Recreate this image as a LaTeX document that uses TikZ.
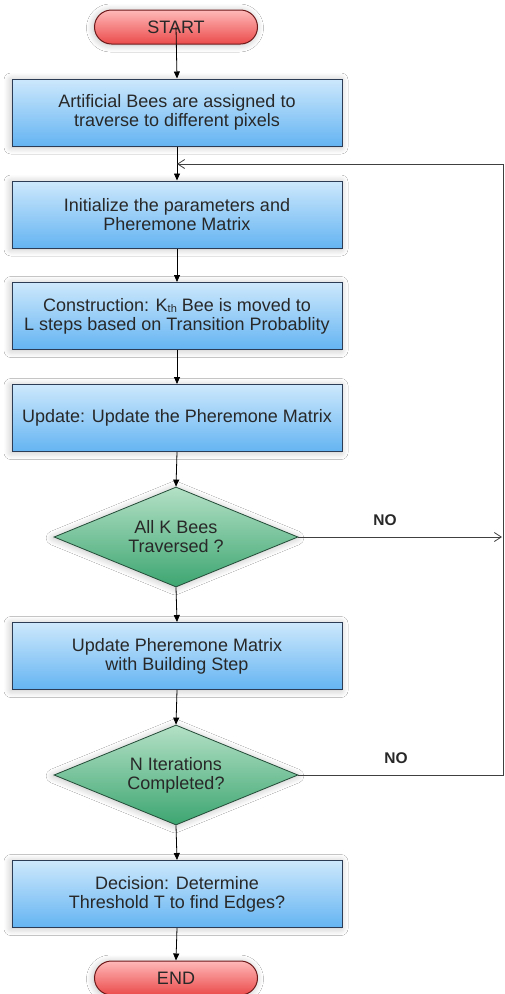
\documentclass[tikz,border=0pt]{standalone}
\usepackage{fontspec}
\setmainfont{Liberation Sans}
\usetikzlibrary{shapes.geometric,arrows.meta,shadows.blur}
\definecolor{boxtop}{RGB}{205,232,252}
\definecolor{boxbot}{RGB}{100,180,242}
\definecolor{boxline}{RGB}{45,60,85}
\definecolor{dtop}{RGB}{180,225,198}
\definecolor{dbot}{RGB}{60,165,112}
\definecolor{dline}{RGB}{35,75,55}
\definecolor{ptop}{RGB}{255,185,185}
\definecolor{pbot}{RGB}{235,75,75}
\definecolor{pline}{RGB}{110,25,25}
\definecolor{txt}{RGB}{40,40,40}
\tikzset{
  x=1pt, y=-1pt,
  base/.style={font=\fontsize{18}{19}\selectfont, text=txt, align=center,
    blur shadow={shadow xshift=-1pt, shadow yshift=-1pt, shadow blur radius=7pt,
      shadow blur steps=10, shadow opacity=25}},
  stepbox/.style={base, rectangle, draw=boxline, line width=1pt,
    top color=boxtop, bottom color=boxbot, minimum width=330pt, minimum height=67pt, inner sep=0pt},
  decbox/.style={base, diamond, aspect=2.44, draw=dline, line width=0.8pt,
    top color=dtop, bottom color=dbot, minimum width=244pt, minimum height=100pt, inner sep=0pt},
  pill/.style={base, rectangle, rounded corners=17pt, draw=pline, line width=1pt,
    top color=ptop, bottom color=pbot, minimum width=163pt, minimum height=34pt, inner sep=0pt},
  flow/.style={draw=black, line width=0.8pt, -{Triangle[length=7pt,width=6pt]}},
  back/.style={draw=black!75, line width=0.8pt, -{Straight Barb[length=7pt,width=9pt]}},
  lbl/.style={font=\bfseries\fontsize{15.5}{17}\selectfont, text=txt}
}
\begin{document}
\begin{tikzpicture}
\useasboundingbox (0,0) rectangle (505,994);
\fill[white] (0,0) rectangle (505,994);

\node[pill] (start) at (176,27) {START};
\node[stepbox] (b1) at (177,112.5) {Artificial Bees are assigned to\\traverse to different pixels};
\node[stepbox] (b2) at (177,214.5) {Initialize the parameters and\\Pheremone Matrix};
\node[stepbox] (b3) at (177,316) {Construction: K\raisebox{-1pt}{\fontsize{11}{11}\selectfont th} Bee is moved to\\L steps based on Transition Probablity};
\node[stepbox] (b4) at (177,418) {Update: Update the Pheremone Matrix};
\node[decbox] (d1) at (176,537) {All K Bees\\Traversed ?};
\node[stepbox] (b5) at (177,656) {Update Pheremone Matrix\\with Building Step};
\node[decbox] (d2) at (176,775) {N Iterations\\Completed?};
\node[stepbox] (b6) at (177,894) {Decision: Determine\\Threshold T to find Edges?};
\node[pill] (end) at (176,978) {END};

\coordinate (j) at (177,164);
\coordinate (r1) at (502,537);
\coordinate (r2) at (503,775);
\coordinate (r0) at (503,164);

\draw[flow] (start.center) -- (b1.north);
\draw[flow] (b1.south) -- (b2.north);
\draw[flow] (b2.south) -- (b3.north);
\draw[flow] (b3.south) -- (b4.north);
\draw[flow] (b4.south) -- (d1.north);
\draw[flow] (d1.south) -- (b5.north);
\draw[flow] (b5.south) -- (d2.north);
\draw[flow] (d2.south) -- (b6.north);
\draw[flow] (b6.south) -- (end.north);

\draw[back] (d1.east) -- (r1);
\draw[back] (d2.east) -- (r2) -- (r0) -- (j);

\node[lbl] (no1) at (385,520) {NO};
\node[lbl] (no2) at (396,758) {NO};
\end{tikzpicture}
\end{document}
